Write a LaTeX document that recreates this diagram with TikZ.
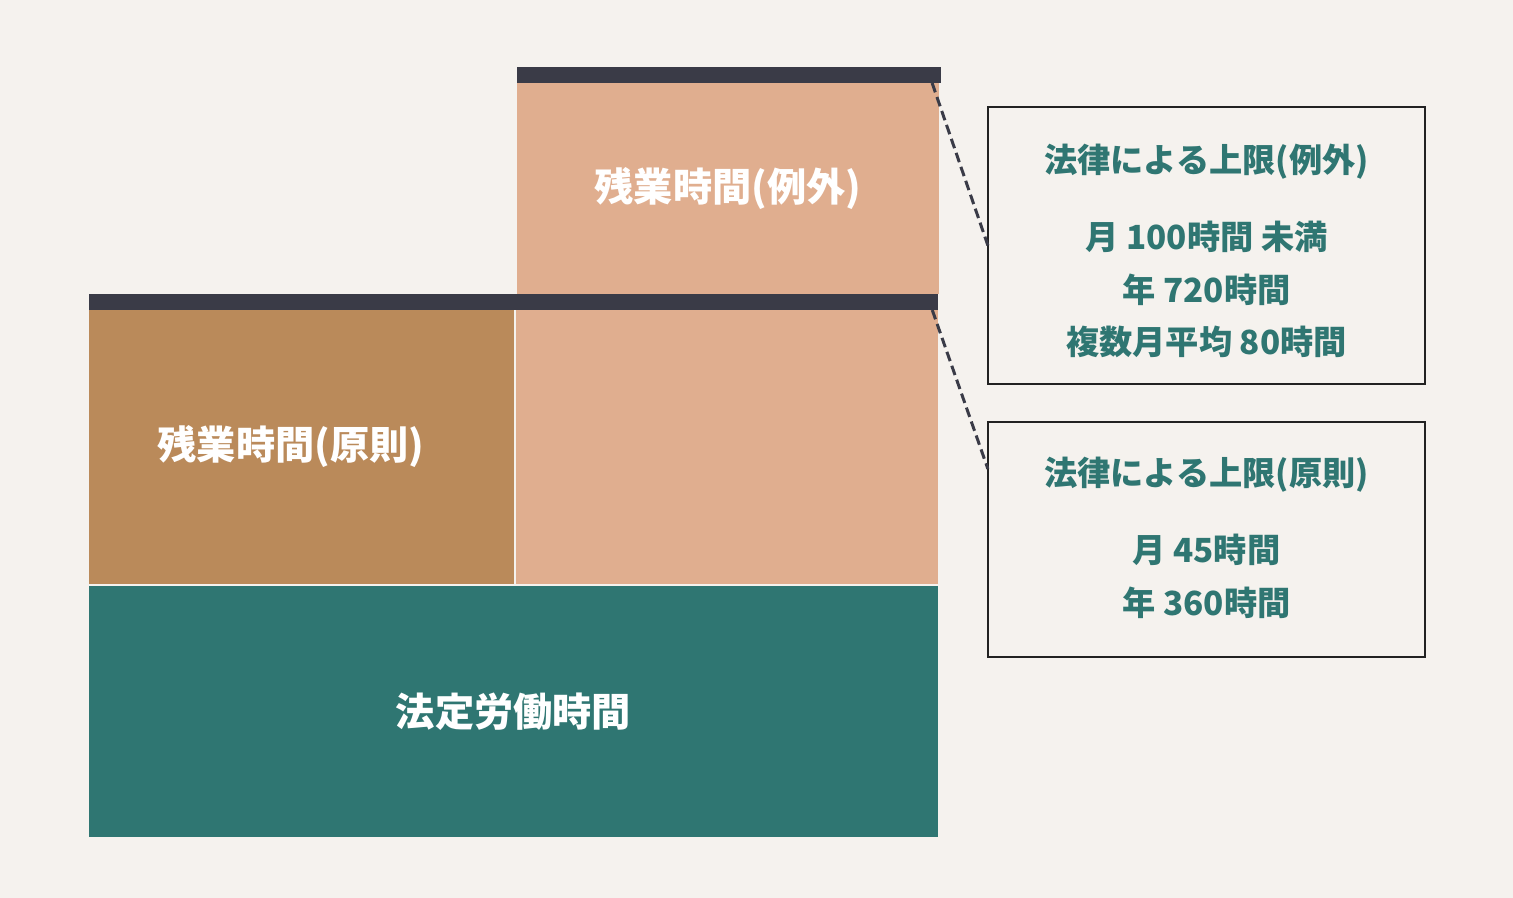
\documentclass[tikz,border=0pt]{standalone}
\usepackage{fontspec}
\setmainfont{Noto Sans CJK JP}
\definecolor{bgcol}{HTML}{F5F2EE}
\definecolor{barcol}{HTML}{3A3B47}
\definecolor{salmon}{HTML}{E0AE8F}
\definecolor{brown}{HTML}{BA8A5A}
\definecolor{legalgreen}{HTML}{2F7672}
\definecolor{linecol}{HTML}{222222}

\begin{document}
\begin{tikzpicture}[x=0.01cm, y=-0.01cm,
	block/.style={rectangle, inner sep=0pt, outer sep=0pt, text=white, font=\fontsize{11.15}{13}\selectfont\bfseries},
	bar/.style={rectangle, fill=barcol, inner sep=0pt, outer sep=0pt, minimum height=0.16cm},
	limitbox/.style={draw=linecol, line width=0.6pt, rectangle, inner sep=0pt, outer sep=0pt, minimum width=4.37cm},
	limittext/.style={text=legalgreen, inner sep=0pt, font=\fontsize{9.45}{11}\selectfont\bfseries},
	guide/.style={draw=barcol, line width=0.85pt, dash pattern=on 2.8pt off 1.4pt}]
				\fill[bgcol] (0,0) rectangle (1513,898);
				% stacked blocks
				\node[block, fill=salmon, minimum width=4.22cm, minimum height=2.11cm] (EXC) at (728,188.5) {残業時間(例外)};
				\node[block, fill=brown, minimum width=4.25cm, minimum height=2.74cm] (RULE) at (301.5,447) {};
				\node[block] (RULELABEL) at (291,447) {残業時間(原則)};
				\node[block, fill=salmon, minimum width=4.22cm, minimum height=2.74cm] (EXCLOW) at (727,447) {};
				\node[block, fill=legalgreen, minimum width=8.49cm, minimum height=2.51cm] (LEGAL) at (513.5,711.5) {法定労働時間};
				\node[bar, minimum width=4.24cm] (TOPBAR) at (729,75) {};
				\node[bar, minimum width=8.49cm] (MIDBAR) at (513.5,302) {};
				% limit boxes
				\node[limitbox, minimum height=2.77cm] (EXCBOX) at (1206.5,245.5) {};
				\node[limitbox, minimum height=2.35cm] (RULEBOX) at (1206.5,539.5) {};
				\node[limittext] (EXCT) at (1206.5,162) {法律による上限(例外)};
				\node[limittext] (EXCA) at (1206.5,237) {月 100時間 未満};
				\node[limittext] (EXCB) at (1206.5,290) {年 720時間};
				\node[limittext] (EXCC) at (1206.5,342) {複数月平均 80時間};
				\node[limittext] (RULET) at (1206.5,475) {法律による上限(原則)};
				\node[limittext] (RULEA) at (1206.5,550) {月 45時間};
				\node[limittext] (RULEB) at (1206.5,603) {年 360時間};
				\draw[guide] ([xshift=-0.09cm]TOPBAR.south east) -- (EXCBOX.west);
				\draw[guide] ([xshift=-0.06cm]MIDBAR.south east) -- ([yshift=-0.47cm]RULEBOX.north west);
			\end{tikzpicture}
\end{document}
